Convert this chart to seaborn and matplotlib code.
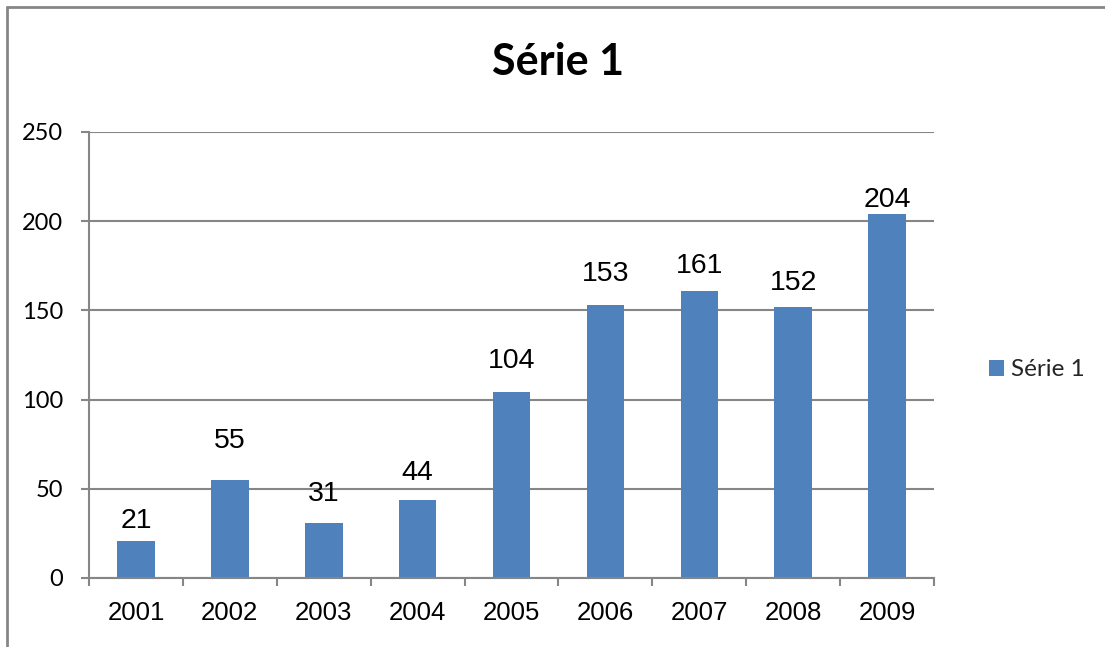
import matplotlib
matplotlib.use("Agg")
import matplotlib.pyplot as plt
import seaborn as sns
import numpy as np
from matplotlib.lines import Line2D

years = ["2001", "2002", "2003", "2004", "2005", "2006", "2007", "2008", "2009"]
values = [21, 55, 31, 44, 104, 153, 161, 152, 204]
series_name = "Série 1"
title = "Série 1"
y_ticks = [0, 50, 100, 150, 200, 250]
# vertical offset (pixels) of each value label above its bar top
label_offsets_px = [19.5, 39, 29, 26.5, 31.5, 31, 25, 24, 14]

BLUE = "#4F81BD"
GRAY = "#868686"

sns.set_theme(style="white")
plt.rcParams["font.family"] = ["Liberation Sans", "DejaVu Sans"]

fig = plt.figure(figsize=(11.05, 6.47), dpi=100)
W, H = 1105, 647
ax = fig.add_axes([89 / W, (H - 578) / H, (934 - 89) / W, (578 - 132) / H])

sns.barplot(x=years, y=values, color=BLUE, saturation=1, width=0.4,
            ax=ax, label=series_name, edgecolor="none")

ax.set_ylim(0, 250)
ax.set_xlim(-0.5, len(years) - 0.5)
ax.set_yticks(y_ticks)
ax.set_yticklabels([str(t) for t in y_ticks], fontfamily="Lato", fontsize=17)
ax.set_xlabel("")
ax.set_ylabel("")

ax.yaxis.grid(True, color=GRAY, linewidth=1.5)
ax.set_axisbelow(True)
for s in ["top", "right"]:
    ax.spines[s].set_visible(False)
for s in ["left", "bottom"]:
    ax.spines[s].set_color(GRAY)
    ax.spines[s].set_linewidth(1.5)

ax.tick_params(axis="y", which="major", direction="out", length=5.8, width=1.5,
               color=GRAY, pad=13, left=True, labelcolor="black")
ax.tick_params(axis="x", which="major", length=0, pad=16.5, labelsize=18.5,
               labelcolor="black")
ax.set_xticks(np.arange(-0.5, len(years), 1.0), minor=True)
ax.tick_params(axis="x", which="minor", direction="out", length=5.8, width=1.5,
               color=GRAY, bottom=True)

for i, (v, off) in enumerate(zip(values, label_offsets_px)):
    ax.annotate(str(v), xy=(i, v), xytext=(0, off), textcoords="offset pixels",
                ha="center", va="center", fontsize=20.5, color="black")

fig.text(558.5 / W, (H - 75) / H, title, ha="center", va="baseline",
         fontfamily="Lato", fontweight="bold", fontsize=31, color="black")

leg = ax.legend(loc="center left", bbox_to_anchor=(989 / W, (H - 370) / H),
                bbox_transform=fig.transFigure, frameon=False,
                prop={"family": "Lato", "size": 17.5},
                handlelength=0.62, handleheight=0.62, handletextpad=0.3,
                borderpad=0, borderaxespad=0)

# outer chart frame (partially visible)
fig.add_artist(Line2D([7 / W, 7 / W], [0, (H - 7) / H], transform=fig.transFigure,
                      color=GRAY, linewidth=2))
fig.add_artist(Line2D([7 / W, 1], [(H - 7) / H, (H - 7) / H], transform=fig.transFigure,
                      color=GRAY, linewidth=2))

fig.savefig("out.png", dpi=100, facecolor="white")
